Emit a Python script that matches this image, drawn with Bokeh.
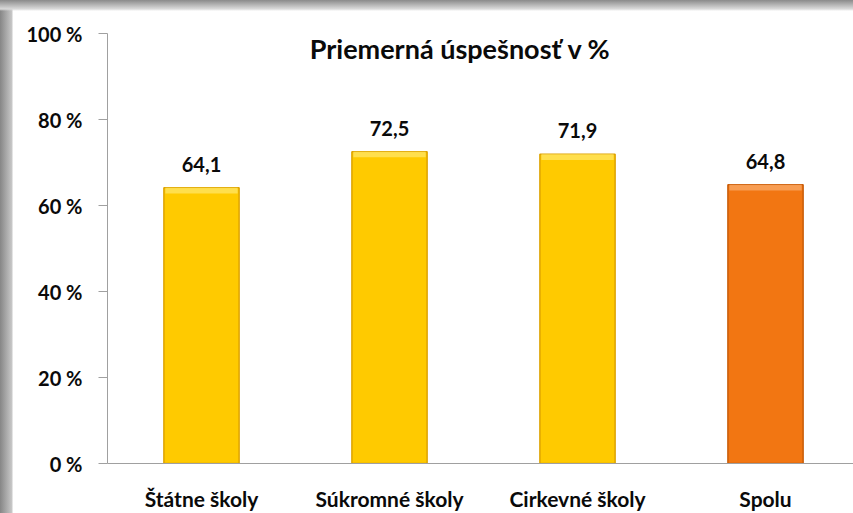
from bokeh.plotting import figure
from bokeh.models import ColumnDataSource, Range1d, FixedTicker, Label
from bokeh.core.properties import value
from bokeh.embed import file_html
from bokeh.resources import INLINE

categories = ["Štátne školy", "Súkromné školy", "Cirkevné školy", "Spolu"]
values = [64.1, 72.5, 71.9, 64.8]
value_labels = ["64,1", "72,5", "71,9", "64,8"]
y_ticks = [0, 20, 40, 60, 80, 100]
y_tick_labels = ["0 %", "20 %", "40 %", "60 %", "80 %", "100 %"]
title_text = "Priemerná úspešnosť v %"

fills = ["#FFCA00", "#FFCA00", "#FFCA00", "#F27612"]
bevels = ["#FFE35A", "#FFE35A", "#FFE35A", "#F9A55E"]
edges = ["#DDA200", "#DDA200", "#DDA200", "#C95C08"]

xs = [i + 0.5 for i in range(len(categories))]
bevel_h = 1.3
src = ColumnDataSource(dict(
    x=xs, top=values, lab=value_labels, fill=fills, bevel=bevels, edge=edges,
    btop=values, bbot=[v - bevel_h for v in values],
))

W, H = 853, 513
p = figure(width=W, height=H, output_backend="svg", toolbar_location=None,
           x_range=Range1d(0, 3.968), y_range=Range1d(0, 100),
           min_border_left=107, min_border_right=0, min_border_top=33,
           min_border_bottom=49)
p.border_fill_color = None
p.background_fill_color = "white"
p.outline_line_color = None
p.styles = {
    "background": "linear-gradient(to bottom, #8a8a8a 0px, #dadada 9px, rgba(255,255,255,0) 11px), "
                  "linear-gradient(to right, #868686 0px, #c8c8c8 12px, #ffffff 13px)",
}
p.grid.visible = False

p.vbar(x="x", top="top", bottom=0, width=0.4, source=src,
       fill_color="fill", line_color="edge", line_width=1.5)
p.vbar(x="x", top="btop", bottom="bbot", width=0.385, source=src,
       fill_color="bevel", line_color=None, fill_alpha=0.85)

p.text(x="x", y="top", text="lab", source=src, y_offset=-16,
       text_align="center", text_baseline="bottom",
       text_font=value("Lato"), text_font_style="bold",
       text_font_size="20px", text_color="#0a0a0a")

p.add_layout(Label(x=1.877, y=96.6, text=title_text, text_align="center",
                   text_baseline="middle", text_font="Lato",
                   text_font_style="bold", text_font_size="27px",
                   text_color="#0a0a0a"))

ya = p.yaxis[0]
ya.ticker = FixedTicker(ticks=y_ticks)
ya.major_label_overrides = {t: l for t, l in zip(y_ticks, y_tick_labels)}
ya.axis_line_color = "#A0A0A0"
ya.major_tick_line_color = "#A0A0A0"
ya.major_tick_in = 0
ya.major_tick_out = 9
ya.minor_tick_line_color = None
ya.major_label_standoff = 16
ya.major_label_text_font = "Lato"
ya.major_label_text_font_style = "bold"
ya.major_label_text_font_size = "20px"
ya.major_label_text_color = "#0a0a0a"

xa = p.xaxis[0]
xa.ticker = FixedTicker(ticks=xs)
xa.major_label_overrides = {x: c for x, c in zip(xs, categories)}
xa.axis_line_color = "#A0A0A0"
xa.major_tick_line_color = None
xa.minor_tick_line_color = None
xa.major_label_standoff = 16
xa.major_label_text_font = "Lato"
xa.major_label_text_font_style = "bold"
xa.major_label_text_font_size = "21px"
xa.major_label_text_color = "#0a0a0a"

open("out.html", "w").write(file_html(p, INLINE))
